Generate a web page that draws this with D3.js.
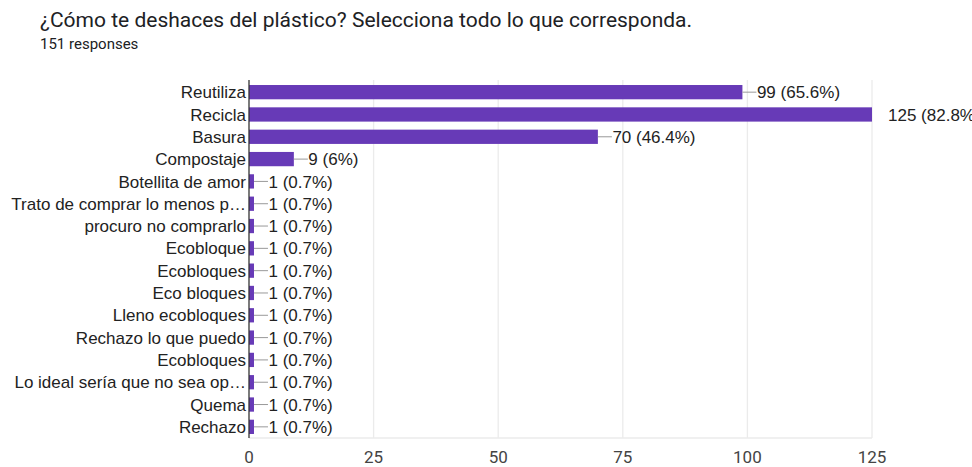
<!DOCTYPE html>
<html>
<head>
<meta charset="utf-8">
<script src="https://cdn.jsdelivr.net/npm/d3@7"></script>
<style>
  html, body { margin: 0; padding: 0; background: #fff; }
  svg { display: block; font-family: "Liberation Sans", Arial, sans-serif; }
</style>
</head>
<body>
<svg id="chart" width="972" height="467"></svg>
<script>
// Survey answers: how respondents get rid of plastic
const categories = [
  "Reutiliza", "Recicla", "Basura", "Compostaje", "Botellita de amor",
  "Trato de comprar lo menos p…", "procuro no comprarlo", "Ecobloque",
  "Ecobloques", "Eco bloques", "Lleno ecobloques", "Rechazo lo que puedo",
  "Ecobloques", "Lo ideal sería que no sea op…", "Quema", "Rechazo"
];
const counts = [99, 125, 70, 9, 1, 1, 1, 1, 1, 1, 1, 1, 1, 1, 1, 1];
const percents = ["65.6%", "82.8%", "46.4%", "6%", "0.7%", "0.7%", "0.7%", "0.7%",
  "0.7%", "0.7%", "0.7%", "0.7%", "0.7%", "0.7%", "0.7%", "0.7%"];
const xTicks = [0, 25, 50, 75, 100, 125];
const totalResponses = 151;

const rows = categories.map((c, i) => ({ key: i, label: c, value: counts[i], pct: percents[i] }));

const svg = d3.select("#chart");
const plotLeft = 249, plotRight = 872, plotTop = 81, plotBottom = 438;
const labelSize = 17;

const x = d3.scaleLinear().domain([0, 125]).range([plotLeft, plotRight]);
const y = d3.scaleBand().domain(rows.map(d => d.key)).range([plotTop, plotBottom]).paddingInner(0.36).paddingOuter(0.18);

// Title and response count
svg.append("text").attr("x", 40).attr("y", 27)
  .attr("font-family", "Roboto, 'Liberation Sans', Arial, sans-serif")
  .attr("font-size", 21).attr("fill", "#202124")
  .text("¿Cómo te deshaces del plástico? Selecciona todo lo que corresponda.");
svg.append("text").attr("x", 40).attr("y", 49)
  .attr("font-family", "Roboto, 'Liberation Sans', Arial, sans-serif")
  .attr("font-size", 15).attr("fill", "#202124")
  .text(totalResponses + " responses");

// Vertical gridlines
svg.append("g").selectAll("line").data(xTicks.slice(1)).join("line")
  .attr("x1", d => x(d)).attr("x2", d => x(d))
  .attr("y1", plotTop - 1).attr("y2", plotBottom)
  .attr("stroke", "#ebebeb").attr("stroke-width", 1.3);
svg.append("line").attr("x1", plotLeft).attr("x2", plotRight).attr("y1", plotBottom).attr("y2", plotBottom)
  .attr("stroke", "#ebebeb").attr("stroke-width", 1.3);

// Bars
svg.append("g").selectAll("rect").data(rows).join("rect")
  .attr("x", x(0)).attr("y", d => y(d.key))
  .attr("width", d => x(d.value) - x(0)).attr("height", y.bandwidth())
  .attr("fill", "#673ab7");

// Left axis line
svg.append("line").attr("x1", plotLeft).attr("x2", plotLeft).attr("y1", plotTop - 1).attr("y2", plotBottom)
  .attr("stroke", "#333").attr("stroke-width", 1.3);

// Category labels
svg.append("g").selectAll("text").data(rows).join("text")
  .attr("x", plotLeft - 3).attr("y", d => y(d.key) + y.bandwidth() / 2)
  .attr("dy", "0.36em").attr("text-anchor", "end")
  .attr("font-size", labelSize).attr("fill", "#222")
  .text(d => d.label);

// Value annotations with leader lines
const ann = svg.append("g");
rows.forEach(d => {
  const cy = y(d.key) + y.bandwidth() / 2;
  const x0 = x(d.value);
  if (d.value === 125) {
    ann.append("text").attr("x", x0 + 16).attr("y", cy).attr("dy", "0.36em")
      .attr("font-size", labelSize).attr("fill", "#222")
      .text(d.value + " (" + d.pct + ")");
  } else {
    ann.append("line").attr("x1", x0).attr("x2", x0 + 14).attr("y1", cy).attr("y2", cy)
      .attr("stroke", "#999").attr("stroke-width", 1);
    ann.append("text").attr("x", x0 + 14.5).attr("y", cy).attr("dy", "0.36em")
      .attr("font-size", labelSize).attr("fill", "#222")
      .text(d.value + " (" + d.pct + ")");
  }
});

// Bottom axis tick labels
svg.append("g").selectAll("text").data(xTicks).join("text")
  .attr("x", d => x(d)).attr("y", 463).attr("text-anchor", "middle")
  .attr("font-family", "Roboto, 'Liberation Sans', Arial, sans-serif")
  .attr("font-size", 17).attr("fill", "#444")
  .text(d => d);
</script>
</body>
</html>
